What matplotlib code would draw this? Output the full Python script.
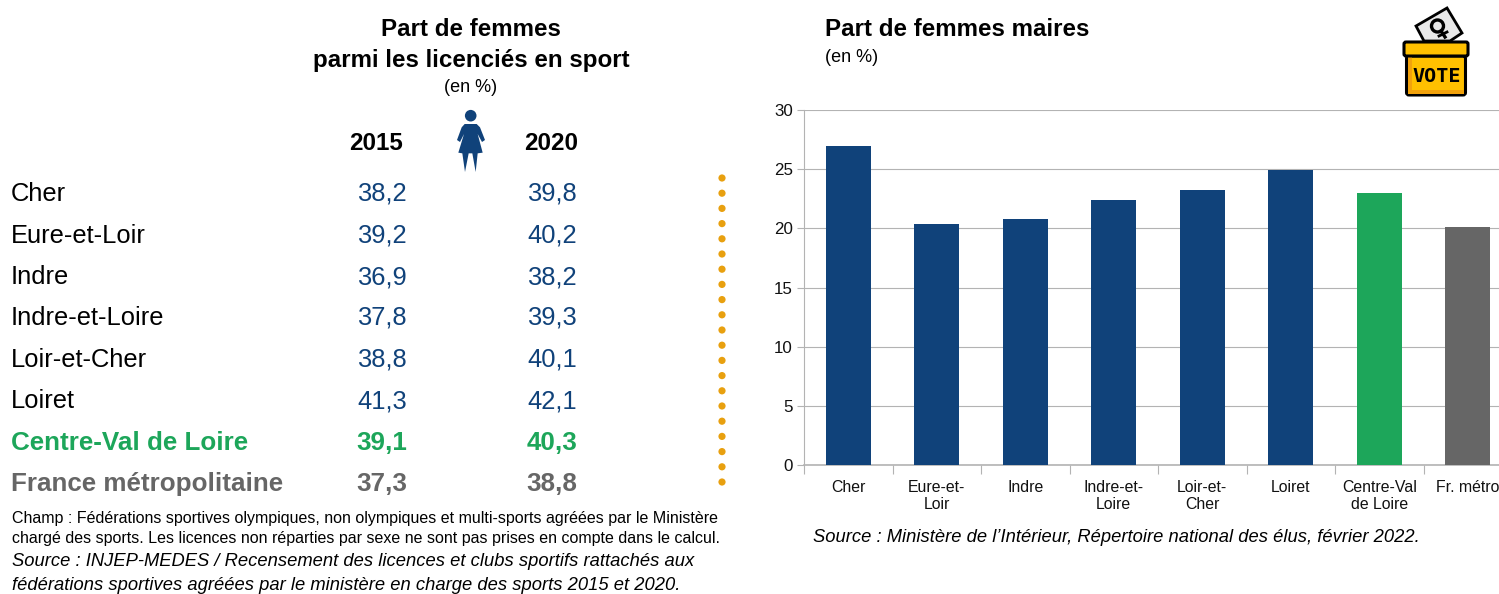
import matplotlib
matplotlib.use("Agg")
import matplotlib.pyplot as plt
from matplotlib.patches import Polygon, Circle, FancyBboxPatch, Rectangle

plt.rcParams['font.family'] = ['Liberation Sans', 'DejaVu Sans']

# ---- data ----
territories = ["Cher", "Eure-et-Loir", "Indre", "Indre-et-Loire", "Loir-et-Cher", "Loiret",
               "Centre-Val de Loire", "France métropolitaine"]
sport_2015 = ["38,2", "39,2", "36,9", "37,8", "38,8", "41,3", "39,1", "37,3"]
sport_2020 = ["39,8", "40,2", "38,2", "39,3", "40,1", "42,1", "40,3", "38,8"]
bar_labels = ["Cher", "Eure-et-\nLoir", "Indre", "Indre-et-\nLoire", "Loir-et-\nCher", "Loiret",
              "Centre-Val\nde Loire", "Fr. métro"]
mayors = [27.0, 20.4, 20.8, 22.4, 23.2, 24.9, 23.0, 20.1]
y_ticks = [0, 5, 10, 15, 20, 25, 30]

BLUE = "#10427A"
GREEN = "#1DA65A"
GREY = "#666666"
BLACK = "#000000"
ORANGE = "#E8A00F"

W, H = 1499, 594
fig = plt.figure(figsize=(W / 100, H / 100), dpi=100, facecolor="white")

# ---- bar chart ----
left, right, top, bottom = 804, 1499, 110, 465
ax = fig.add_axes([left / W, 1 - bottom / H, (right - left) / W, (bottom - top) / H])
colors = [BLUE] * 6 + [GREEN, GREY]
ax.bar(range(len(mayors)), mayors, width=0.51, color=colors, zorder=3)
ax.set_xlim(-0.5, -0.5 + (right - left) / 88.5)
ax.set_ylim(0, 30)
ax.set_yticks(y_ticks)
ax.set_xticks([i - 0.5 for i in range(len(mayors))])
ax.set_xticklabels([])
ax.tick_params(axis="x", length=6.5, width=0.8, color="#B3B3B3")
ax.tick_params(axis="y", length=5, width=0.8, color="#B3B3B3", labelsize=12.2, pad=3, labelcolor="#111111")
ax.grid(axis="y", color="#B3B3B3", lw=0.8, zorder=0)
for s in ("top", "right"):
    ax.spines[s].set_visible(False)
for s in ("left", "bottom"):
    ax.spines[s].set_color("#B3B3B3")
    ax.spines[s].set_linewidth(0.8)
ax.spines["bottom"].set_linewidth(1.2)
for i, lab in enumerate(bar_labels):
    ax.annotate(lab, (i, 0), xycoords=("data", "axes fraction"), xytext=(0, -10.5),
                textcoords="offset points", ha="center", va="top", fontsize=11.4,
                linespacing=1.2, color="#111111", clip_on=False)

# ---- overlay in pixel coordinates ----
ov = fig.add_axes([0, 0, 1, 1], facecolor="none")
ov.set_xlim(0, W)
ov.set_ylim(H, 0)
ov.axis("off")


def t(x, y, s, size, ha="left", va="center", **kw):
    ov.text(x, y, s, fontsize=size, ha=ha, va=va, **kw)


t(471, 29, "Part de femmes", 17.4, ha="center", fontweight="bold")
t(471, 61, "parmi les licenciés en sport", 17.4, ha="center", fontweight="bold")
t(471, 88, "(en %)", 13, ha="center")
t(376, 143, "2015", 17.4, ha="center", fontweight="bold")
t(551, 143, "2020", 17.4, ha="center", fontweight="bold")

row_y = [194, 236, 277, 318, 360, 401, 443, 484]
for i, (name, a, b) in enumerate(zip(territories, sport_2015, sport_2020)):
    col_name = {6: GREEN, 7: GREY}.get(i, BLACK)
    col_val = {6: GREEN, 7: GREY}.get(i, BLUE)
    weight = "bold" if i >= 6 else "normal"
    size = 18.75 if i >= 6 else 18.4
    t(11, row_y[i], name, size, color=col_name, fontweight=weight)
    t(382, row_y[i], a, size, ha="center", color=col_val, fontweight=weight)
    t(552, row_y[i], b, size, ha="center", color=col_val, fontweight=weight)

# dotted separator
for k in range(21):
    ov.add_patch(Circle((722, 178 + k * 15.2), 3.6, color=ORANGE, lw=0))

notes = [
    "Champ : Fédérations sportives olympiques, non olympiques et multi-sports agréées par le Ministère",
    "chargé des sports. Les licences non réparties par sexe ne sont pas prises en compte dans le calcul.",
]
t(12, 518, notes[0], 11.53)
t(12, 538, notes[1], 11.53)
t(12, 562, "Source : INJEP-MEDES / Recensement des licences et clubs sportifs rattachés aux", 13.25, style="italic")
t(12, 585, "fédérations sportives agréées par le ministère en charge des sports 2015 et 2020.", 13.25, style="italic")

t(825, 29, "Part de femmes maires", 17.4, fontweight="bold")
t(825, 57, "(en %)", 13)
t(813, 537, "Source : Ministère de l’Intérieur, Répertoire national des élus, février 2022.", 13.2, style="italic")


# woman pictogram
def z(pts):
    return [(430 + a / 3, 100 + b / 3) for a, b in pts]


ov.add_patch(Circle((470.7, 115.7), 5.8, color=BLUE, lw=0))
ov.add_patch(Polygon(z([(104, 72), (140, 72), (150, 82), (165, 120), (156, 126), (143, 102),
                        (158, 158), (143, 160), (137, 216), (127, 160), (116, 160), (105, 216),
                        (97, 160), (85, 158), (102, 102), (90, 126), (81, 120), (95, 82)]),
                     closed=True, color=BLUE, lw=0))

# ballot box pictogram
ov.add_patch(Polygon([(1416, 26), (1447, 8), (1462, 33), (1450, 41), (1424, 41)], closed=True,
                     fc="#E8E8E8", ec="black", lw=2))
ov.add_patch(Circle((1437.5, 26), 6, fc="none", ec="black", lw=2.4))
ov.plot([1441, 1445], [31, 37], color="black", lw=2.4)
ov.plot([1439, 1447], [36, 32], color="black", lw=2)
ov.add_patch(FancyBboxPatch((1406.5, 56), 59, 39, boxstyle="round,pad=0,rounding_size=2.5",
                            fc="#FFC000", ec="black", lw=2.2))
ov.add_patch(Rectangle((1408, 57), 4, 36.5, fc="#F2A20C", ec="none"))
ov.add_patch(Rectangle((1408, 89.5), 56, 4, fc="#F2A20C", ec="none"))
ov.add_patch(FancyBboxPatch((1404, 42), 64, 14, boxstyle="round,pad=0,rounding_size=2",
                            fc="#FFC000", ec="black", lw=2.2))
ov.text(1436.5, 76.5, "VOTE", fontsize=14.5, fontweight="bold", family=["DejaVu Sans Mono"],
        ha="center", va="center", color="black")

fig.savefig("out.png", dpi=100, facecolor="white")
